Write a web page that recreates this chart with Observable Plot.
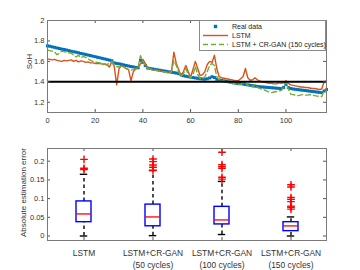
<!DOCTYPE html>
<html><head><meta charset="utf-8">
<script src="https://cdn.jsdelivr.net/npm/d3@7"></script>
<script src="https://cdn.jsdelivr.net/npm/@observablehq/plot@0.6"></script>
<style>
body{margin:0;background:#fff;font-family:"Liberation Sans",Arial,sans-serif;}
#wrap{position:relative;width:360px;height:270px;overflow:hidden;}
#wrap svg{display:block;}
#legend{position:absolute;left:199px;top:20px;width:127px;height:31px;border:1px solid #8a8a8a;background:#fff;font-size:7px;color:#222;box-sizing:border-box;}
.row{position:absolute;left:0;height:9px;display:flex;align-items:center;white-space:nowrap;}
.row svg{margin-left:3px;margin-right:4px;}
</style></head><body><div id="wrap"></div>
<script>
// ---- Top panel data (SoH per cycle, index = cycle) ----
const realSoH = [1.752,1.748,1.742,1.737,1.731,1.726,1.720,1.716,1.711,1.705,1.699,1.694,1.690,1.684,1.678,1.673,1.668,1.662,1.657,1.651,1.646,1.640,1.635,1.629,1.624,1.618,1.612,1.606,1.585,1.580,1.576,1.571,1.566,1.560,1.555,1.550,1.546,1.540,1.537,1.610,1.590,1.560,1.535,1.530,1.526,1.522,1.518,1.514,1.510,1.506,1.502,1.498,1.494,1.490,1.486,1.480,1.468,1.460,1.455,1.450,1.446,1.442,1.438,1.434,1.430,1.428,1.426,1.430,1.438,1.450,1.442,1.425,1.418,1.414,1.410,1.405,1.400,1.395,1.390,1.386,1.382,1.390,1.378,1.374,1.370,1.366,1.362,1.358,1.355,1.352,1.350,1.348,1.346,1.344,1.342,1.340,1.338,1.336,1.334,1.345,1.375,1.345,1.335,1.330,1.327,1.324,1.321,1.318,1.315,1.312,1.309,1.306,1.303,1.300,1.297,1.294,1.310,1.325];
const lstmSoH = [1.625,1.620,1.615,1.620,1.610,1.605,1.600,1.610,1.605,1.610,1.615,1.600,1.610,1.595,1.605,1.600,1.590,1.595,1.585,1.585,1.580,1.582,1.578,1.575,1.572,1.565,1.545,1.600,1.550,1.370,1.530,1.560,1.545,1.530,1.520,1.410,1.500,1.525,1.540,1.575,1.620,1.580,1.540,1.530,1.520,1.515,1.515,1.510,1.505,1.500,1.500,1.495,1.505,1.690,1.580,1.520,1.460,1.500,1.560,1.500,1.445,1.520,1.600,1.530,1.460,1.470,1.500,1.570,1.600,1.590,1.660,1.530,1.450,1.440,1.435,1.430,1.425,1.420,1.415,1.410,1.410,1.430,1.450,1.530,1.440,1.415,1.420,1.440,1.420,1.410,1.400,1.395,1.390,1.385,1.385,1.380,1.380,1.390,1.385,1.390,1.410,1.385,1.370,1.365,1.360,1.355,1.350,1.350,1.345,1.345,1.340,1.335,1.335,1.330,1.325,1.330,1.400,1.410];
const ganSoH = [1.710,1.705,1.700,1.690,1.665,1.680,1.700,1.695,1.690,1.685,1.680,1.660,1.645,1.660,1.635,1.650,1.640,1.625,1.610,1.600,1.595,1.590,1.585,1.580,1.575,1.570,1.580,1.600,1.565,1.550,1.545,1.550,1.545,1.530,1.520,1.515,1.520,1.530,1.550,1.655,1.600,1.560,1.535,1.525,1.520,1.515,1.510,1.505,1.500,1.495,1.490,1.485,1.500,1.610,1.560,1.500,1.450,1.480,1.530,1.470,1.440,1.470,1.550,1.470,1.430,1.430,1.450,1.500,1.560,1.580,1.560,1.450,1.420,1.415,1.410,1.400,1.395,1.390,1.385,1.380,1.375,1.370,1.400,1.390,1.365,1.360,1.350,1.375,1.345,1.335,1.330,1.320,1.310,1.300,1.295,1.300,1.305,1.310,1.315,1.350,1.400,1.330,1.280,1.275,1.270,1.265,1.270,1.275,1.270,1.270,1.275,1.270,1.265,1.260,1.260,1.255,1.320,1.340];
const threshold = 1.4;
const topXDomain = [0, 117];
const topYDomain = [1.1, 2];
const topXTicks = [0, 20, 40, 60, 80, 100];
const topYTicks = [1.2, 1.4, 1.6, 1.8, 2];
const topYLabel = "SoH";
const seriesNames = ["Real data", "LSTM", "LSTM + CR-GAN (150 cycles)"];
const seriesColors = ["#0072BD", "#D95319", "#77AC30"];

// ---- Bottom panel data (box plot statistics) ----
const categories = ["LSTM", "LSTM+CR-GAN\n(50 cycles)", "LSTM+CR-GAN\n(100 cycles)", "LSTM+CR-GAN\n(150 cycles)"];
const whiskerLow = [0.0, 0.001, 0.004, 0.0];
const q1 = [0.037, 0.026, 0.031, 0.013];
const median = [0.059, 0.051, 0.043, 0.027];
const q3 = [0.0925, 0.084, 0.078, 0.037];
const whiskerHigh = [0.165, 0.175, 0.146, 0.051];
const outliers = [
  [0.205, 0.181, 0.178],
  [0.206, 0.199, 0.19, 0.184, 0.176],
  [0.224, 0.191, 0.186, 0.181, 0.157, 0.152],
  [0.137, 0.131, 0.103, 0.098, 0.092, 0.08, 0.077, 0.072]
];
const botYDomain = [-0.012, 0.234];
const botYTicks = [0, 0.05, 0.1, 0.15, 0.2];
const botYLabel = "Absolute estimation error";

// ---- build ----
const font = "Liberation Sans, Arial, sans-serif";
const toRows = (arr) => arr.map((v, i) => ({cycle: i, soh: v}));
const realRows = toRows(realSoH), lstmRows = toRows(lstmSoH), ganRows = toRows(ganSoH);
const stats = categories.map((c, i) => ({cat: c, lo: whiskerLow[i], q1: q1[i], med: median[i], q3: q3[i], hi: whiskerHigh[i]}));
const outRows = outliers.flatMap((vals, i) => vals.map(v => ({cat: categories[i], v})));

const W = 360, ML = 47, MR = 34;
const innerW = W - ML - MR;
const tickCol = "#555", frameCol = "#7a7a7a", textCol = "#333";

function inward(xt, yt, innerH) {
  return [
    Plot.ruleY(yt, {stroke: tickCol, insetRight: innerW - 3}),
    Plot.ruleY(yt, {stroke: tickCol, insetLeft: innerW - 3}),
    Plot.ruleX(xt, {stroke: tickCol, insetTop: innerH - 3}),
    Plot.ruleX(xt, {stroke: tickCol, insetBottom: innerH - 3})
  ];
}

const topH = 130, topMT = 20, topMB = 18;
const topPlot = Plot.plot({
  width: W, height: topH, marginTop: topMT, marginBottom: topMB, marginLeft: ML, marginRight: MR,
  style: {fontFamily: font, fontSize: "7.5px", color: textCol, background: "#fff"},
  x: {domain: topXDomain},
  y: {domain: topYDomain},
  marks: [
    Plot.frame({fill: "#fff"}),
    Plot.axisX(topXTicks, {tickSize: 0, tickPadding: 5, label: null, fontSize: 7.5}),
    Plot.axisY(topYTicks, {tickSize: 0, tickPadding: 3, label: null, fontSize: 7.5, tickFormat: d => String(d)}),
    Plot.text([topYLabel], {frameAnchor: "left", textAnchor: "middle", rotate: -90, dx: -18.5, dy: -5, fontSize: 8, fill: textCol}),
    Plot.dot(realRows, {x: "cycle", y: "soh", symbol: "square", r: 1.7, fill: seriesColors[0], stroke: null}),
    Plot.line(lstmRows, {x: "cycle", y: "soh", stroke: seriesColors[1], strokeWidth: 1.4}),
    Plot.line(ganRows, {x: "cycle", y: "soh", stroke: seriesColors[2], strokeWidth: 1.4, strokeDasharray: "5,3"}),
    Plot.ruleY([threshold], {stroke: "#000", strokeWidth: 2}),
    ...inward(topXTicks, topYTicks, topH - topMT - topMB),
    Plot.frame({stroke: frameCol})
  ]
});

const botH = 140, botMT = 18, botMB = 30;
const botPlot = Plot.plot({
  width: W, height: botH, marginTop: botMT, marginBottom: botMB, marginLeft: ML, marginRight: MR,
  style: {fontFamily: font, fontSize: "7.5px", color: textCol, background: "#fff"},
  x: {type: "band", domain: categories, paddingInner: 0.785, paddingOuter: 0.3925},
  y: {domain: botYDomain},
  marks: [
    Plot.frame({fill: "#fff"}),
    Plot.axisX({tickSize: 0, tickPadding: 7, label: null, fontSize: 8.4, lineHeight: 1.4}),
    Plot.axisY(botYTicks, {tickSize: 0, tickPadding: 3, label: null, fontSize: 7.5, tickFormat: d => String(d)}),
    Plot.text([botYLabel], {frameAnchor: "left", textAnchor: "middle", rotate: -90, dx: -24, dy: -2, fontSize: 8, fill: textCol}),
    Plot.ruleX(stats, {x: "cat", y1: "q3", y2: "hi", stroke: "#000", strokeWidth: 1.4, strokeDasharray: "3.5,3"}),
    Plot.ruleX(stats, {x: "cat", y1: "lo", y2: "q1", stroke: "#000", strokeWidth: 1.4, strokeDasharray: "3.5,3"}),
    Plot.tickY(stats, {x: "cat", y: "hi", stroke: "#000", strokeWidth: 1.4, inset: 3.8}),
    Plot.tickY(stats, {x: "cat", y: "lo", stroke: "#000", strokeWidth: 1.4, inset: 3.8}),
    Plot.barY(stats, {x: "cat", y1: "q1", y2: "q3", fill: "#fff", stroke: "#0000FF", strokeWidth: 1.4}),
    Plot.tickY(stats, {x: "cat", y: "med", stroke: "#FF0000", strokeWidth: 1.3}),
    Plot.dot(outRows, {x: "cat", y: "v", symbol: "plus", r: 2.6, stroke: "#FF0000", strokeWidth: 1.4}),
    ...inward(categories, botYTicks, botH - botMT - botMB),
    Plot.frame({stroke: frameCol})
  ]
});

const wrap = document.getElementById("wrap");
wrap.appendChild(topPlot);
wrap.appendChild(botPlot);

// legend (inside the top axes, top-right)
const legend = document.createElement("div");
legend.id = "legend";
const rowTops = [1, 9.5, 19];
seriesNames.forEach((name, i) => {
  const row = document.createElement("div");
  row.className = "row";
  row.style.top = rowTops[i] + "px";
  let sw;
  if (i === 0) sw = `<svg width="25" height="9"><rect x="10.8" y="2.8" width="3.4" height="3.4" fill="${seriesColors[0]}"/></svg>`;
  else if (i === 1) sw = `<svg width="25" height="9"><line x1="0" x2="25" y1="4.5" y2="4.5" stroke="${seriesColors[1]}" stroke-width="1.4"/></svg>`;
  else sw = `<svg width="25" height="9"><line x1="0" x2="25" y1="4.5" y2="4.5" stroke="${seriesColors[2]}" stroke-width="1.4" stroke-dasharray="5,3"/></svg>`;
  row.innerHTML = sw + `<span>${name}</span>`;
  legend.appendChild(row);
});
wrap.appendChild(legend);
</script>
</body></html>
